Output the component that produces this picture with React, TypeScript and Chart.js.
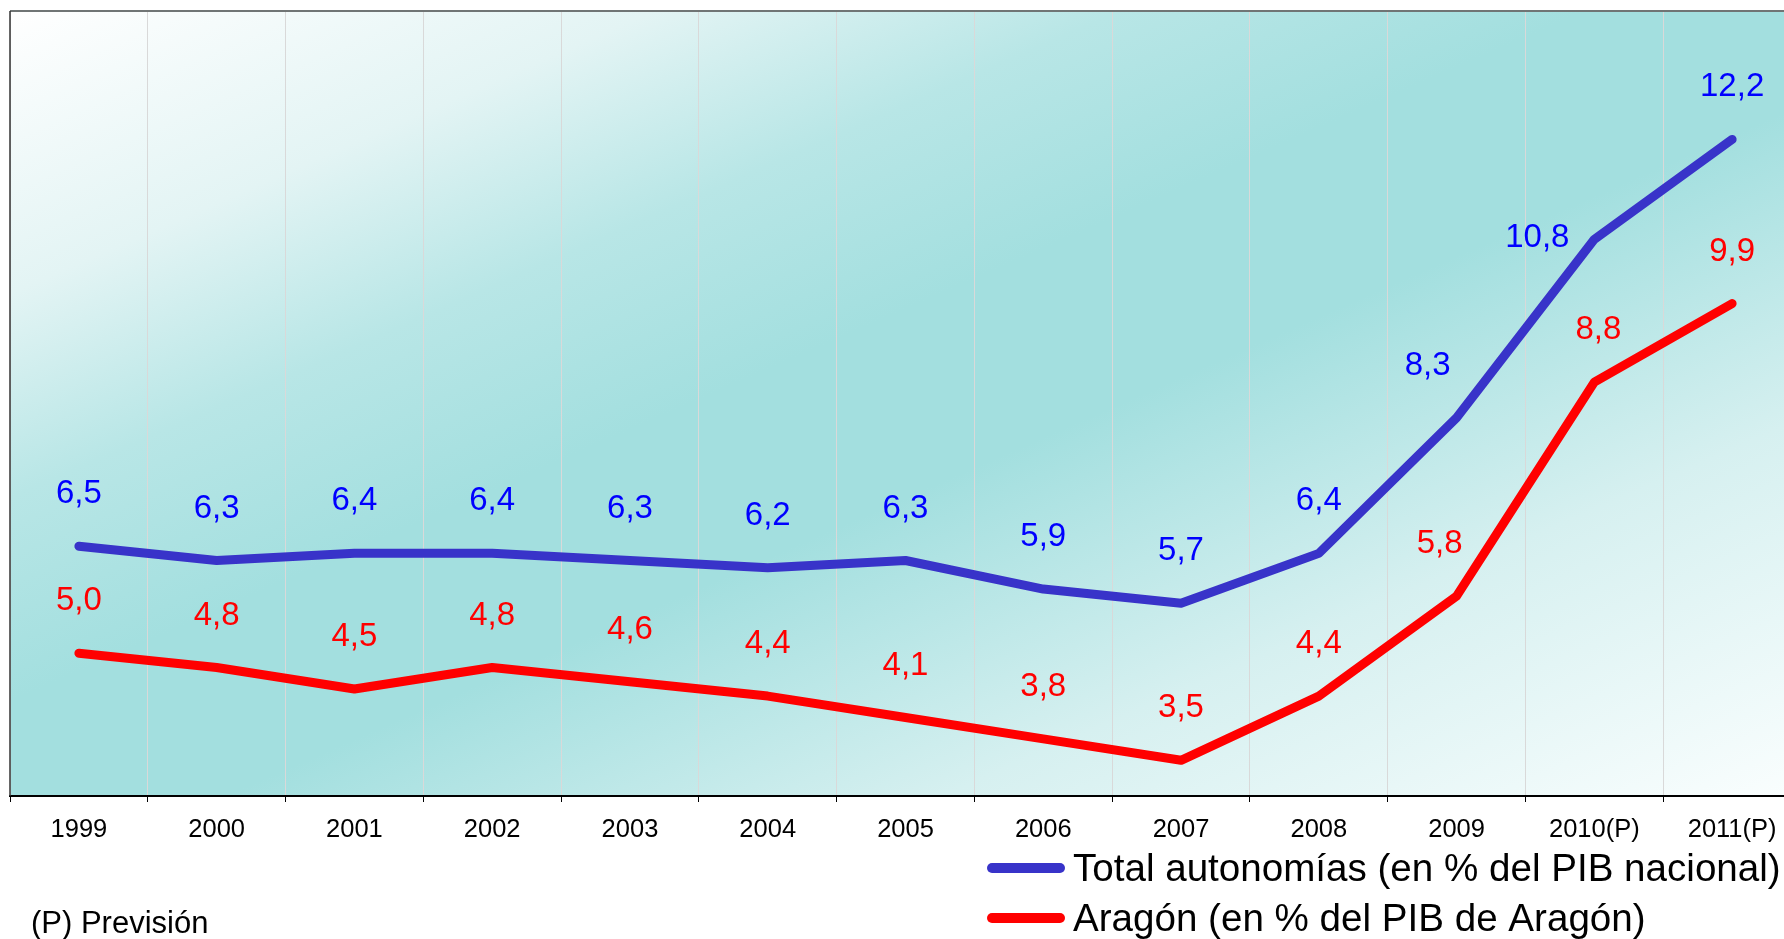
import React, { useEffect, useRef } from 'react';
import { Chart, registerables } from 'chart.js';

Chart.register(...registerables);

const years = ['1999', '2000', '2001', '2002', '2003', '2004', '2005', '2006', '2007', '2008', '2009', '2010(P)', '2011(P)'];
const totalAutonomias = [6.5, 6.3, 6.4, 6.4, 6.3, 6.2, 6.3, 5.9, 5.7, 6.4, 8.3, 10.8, 12.2];
const aragon = [5.0, 4.8, 4.5, 4.8, 4.6, 4.4, 4.1, 3.8, 3.5, 4.4, 5.8, 8.8, 9.9];
const seriesNames = ['Total autonomías (en % del PIB nacional)', 'Aragón (en % del PIB de Aragón)'];
const footnote = '(P) Previsión';
const yMin = 3;
const yMax = 14;

const FONT = "'Liberation Sans', Arial, sans-serif";
const lineColors = ['#3833c9', '#ff0000'];
const labelColors = ['#0000ff', '#ff0000'];
const LABEL_SIZE = 33;
// label nudges: key "dataset-index" -> [dx, dy]
const labelNudge: Record<string, [number, number]> = {
  '0-10': [-29, 0],
  '0-11': [-57, 51],
  '1-10': [-17, 0],
  '1-11': [4, 0],
};

const bgPlugin = {
  id: 'bgGradient',
  beforeDraw(chart: any) {
    const { ctx, chartArea } = chart;
    const { left, top, right, bottom } = chartArea;
    const W = right - left;
    const H = bottom - top;
    const s = (2 * W * H) / (W * W + H * H);
    const g = ctx.createLinearGradient(left, top, left + s * H, top + s * W);
    g.addColorStop(0, '#ffffff');
    g.addColorStop(0.18, '#e3f4f4');
    g.addColorStop(0.31, '#b8e6e6');
    g.addColorStop(0.44, '#a3dfdf');
    g.addColorStop(0.56, '#a3dfdf');
    g.addColorStop(0.76, '#d6f0f0');
    g.addColorStop(1, '#fafefe');
    ctx.save();
    ctx.fillStyle = g;
    ctx.fillRect(left, top, W, H);
    ctx.restore();
  },
  afterDraw(chart: any) {
    const { ctx, chartArea } = chart;
    const { left, top, right, bottom } = chartArea;
    ctx.save();
    ctx.strokeStyle = '#707575';
    ctx.lineWidth = 2;
    ctx.beginPath();
    ctx.moveTo(left, top);
    ctx.lineTo(right, top);
    ctx.stroke();
    ctx.strokeStyle = '#333333';
    ctx.lineWidth = 1.5;
    ctx.beginPath();
    ctx.moveTo(left, top);
    ctx.lineTo(left, bottom);
    ctx.stroke();

    // legend
    const legendY = [868, 918];
    chart.data.datasets.forEach((ds: any, i: number) => {
      ctx.strokeStyle = ds.borderColor;
      ctx.lineWidth = 10;
      ctx.lineCap = 'round';
      ctx.beginPath();
      ctx.moveTo(992, legendY[i]);
      ctx.lineTo(1060, legendY[i]);
      ctx.stroke();
      ctx.fillStyle = '#000';
      ctx.font = `38.6px ${FONT}`;
      ctx.textAlign = 'left';
      ctx.textBaseline = 'alphabetic';
      ctx.fillText(ds.label, 1073, legendY[i] + 13);
    });

    // footnote
    ctx.fillStyle = '#000';
    ctx.font = `31px ${FONT}`;
    ctx.textAlign = 'left';
    ctx.textBaseline = 'alphabetic';
    ctx.fillText(footnote, 31, 933);
    ctx.restore();
  },
  afterDatasetsDraw(chart: any) {
    const { ctx } = chart;
    ctx.save();
    ctx.font = `${LABEL_SIZE}px ${FONT}`;
    ctx.textAlign = 'center';
    ctx.textBaseline = 'alphabetic';
    chart.data.datasets.forEach((ds: any, di: number) => {
      const meta = chart.getDatasetMeta(di);
      meta.data.forEach((pt: any, i: number) => {
        const v = ds.data[i] as number;
        const nudge = labelNudge[`${di}-${i}`] || [0, 0];
        ctx.fillStyle = labelColors[di];
        ctx.fillText(v.toFixed(1).replace('.', ','), pt.x + nudge[0], pt.y - 55 + 12 + nudge[1]);
      });
    });
    ctx.restore();
  },
};

export default function App() {
  const ref = useRef<HTMLCanvasElement | null>(null);
  useEffect(() => {
    if (!ref.current) return;
    const chart = new Chart(ref.current, {
      type: 'line',
      data: {
        labels: years,
        datasets: [
          {
            label: seriesNames[0],
            data: totalAutonomias,
            borderColor: lineColors[0],
            backgroundColor: lineColors[0],
            borderWidth: 9,
            pointRadius: 0,
            tension: 0,
            borderCapStyle: 'round',
            borderJoinStyle: 'round',
          },
          {
            label: seriesNames[1],
            data: aragon,
            borderColor: lineColors[1],
            backgroundColor: lineColors[1],
            borderWidth: 9,
            pointRadius: 0,
            tension: 0,
            borderCapStyle: 'round',
            borderJoinStyle: 'round',
          },
        ],
      },
      options: {
        responsive: false,
        animation: false,
        devicePixelRatio: 1,
        layout: { padding: { left: 10, top: 11, right: 11, bottom: 0 } },
        plugins: { legend: { display: false }, tooltip: { enabled: false } },
        scales: {
          x: {
            offset: true,
            grid: {
              offset: true,
              color: '#d9d9d9',
              lineWidth: 1,
              drawTicks: true,
              tickLength: 6,
              tickColor: '#000',
              tickWidth: 1,
            },
            border: { color: '#000', width: 2 },
            ticks: {
              color: '#000',
              font: { family: FONT, size: 25.5 },
              padding: 13,
              maxRotation: 0,
              autoSkip: false,
            },
            afterFit: (s: any) => {
              s.height = 143;
            },
          },
          y: { display: false, min: yMin, max: yMax },
        },
      } as any,
      plugins: [bgPlugin],
    });
    return () => chart.destroy();
  }, []);
  return (
    <div style={{ position: 'fixed', left: 0, top: 0, width: 1784, height: 939, overflow: 'hidden', background: '#fff' }}>
      <canvas ref={ref} width={1812} height={939} style={{ display: 'block' }} />
    </div>
  );
}
